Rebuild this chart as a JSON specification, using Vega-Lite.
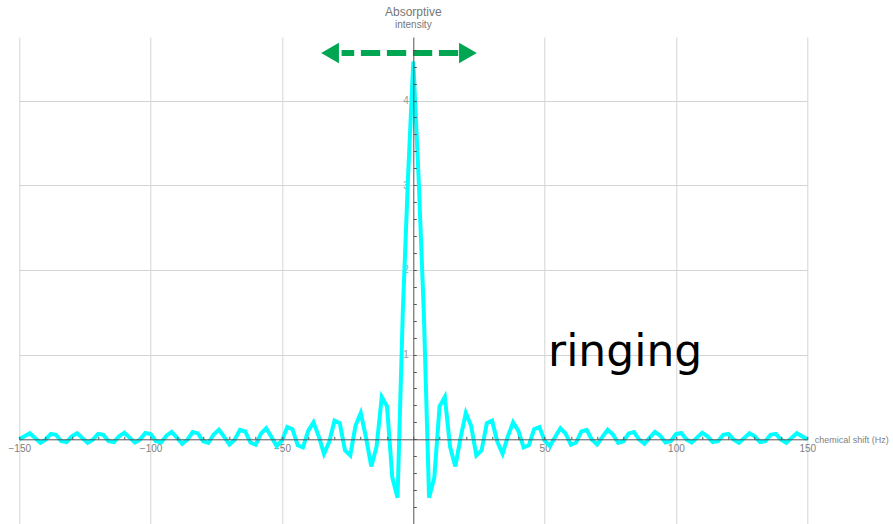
{
  "$schema": "https://vega.github.io/schema/vega-lite/v6.json",
  "width": 788,
  "height": 487,
  "autosize": {"type": "none"},
  "padding": {"left": 19.3, "top": 37, "right": 85.7, "bottom": 0},
  "background": "white",
  "config": {"view": {"stroke": null}, "font": "Liberation Sans"},
  "title": {
    "text": "Absorptive",
    "subtitle": "intensity",
    "anchor": "middle",
    "fontSize": 12,
    "fontWeight": "normal",
    "color": "#777777",
    "font": "Liberation Sans",
    "subtitleFont": "Liberation Sans",
    "subtitleFontSize": 10,
    "subtitleColor": "#777777",
    "subtitlePadding": 1,
    "offset": 6
  },
  "datasets": {
    "spec": [
      {"x": -150, "y": 0.0}, {"x": -148, "y": 0.035}, {"x": -146, "y": 0.071}, {"x": -144, "y": 0.015},
      {"x": -142, "y": -0.041}, {"x": -140, "y": -0.004}, {"x": -138, "y": 0.064}, {"x": -136, "y": 0.052},
      {"x": -134, "y": -0.022}, {"x": -132, "y": -0.034}, {"x": -130, "y": 0.035}, {"x": -128, "y": 0.071},
      {"x": -126, "y": 0.015}, {"x": -124, "y": -0.041}, {"x": -122, "y": -0.004}, {"x": -120, "y": 0.064},
      {"x": -118, "y": 0.052}, {"x": -116, "y": -0.022}, {"x": -114, "y": -0.034}, {"x": -112, "y": 0.035},
      {"x": -110, "y": 0.077}, {"x": -108, "y": 0.02}, {"x": -106, "y": -0.039}, {"x": -104, "y": -0.001},
      {"x": -102, "y": 0.074}, {"x": -100, "y": 0.061}, {"x": -98, "y": -0.022}, {"x": -96, "y": -0.038},
      {"x": -94, "y": 0.043}, {"x": -92, "y": 0.088}, {"x": -90, "y": 0.02}, {"x": -88, "y": -0.052},
      {"x": -86, "y": -0.005}, {"x": -84, "y": 0.086}, {"x": -82, "y": 0.07}, {"x": -80, "y": -0.023},
      {"x": -78, "y": -0.043}, {"x": -76, "y": 0.057}, {"x": -74, "y": 0.113}, {"x": -72, "y": 0.028},
      {"x": -70, "y": -0.062}, {"x": -68, "y": -0.004}, {"x": -66, "y": 0.112}, {"x": -64, "y": 0.092},
      {"x": -62, "y": -0.038}, {"x": -60, "y": -0.064}, {"x": -58, "y": 0.066}, {"x": -56, "y": 0.13},
      {"x": -54, "y": 0.028}, {"x": -52, "y": -0.08}, {"x": -50, "y": -0.016}, {"x": -48, "y": 0.145},
      {"x": -46, "y": 0.12}, {"x": -44, "y": -0.07}, {"x": -42, "y": -0.095}, {"x": -40, "y": 0.1},
      {"x": -38, "y": 0.2}, {"x": -36, "y": 0.035}, {"x": -34, "y": -0.17}, {"x": -32, "y": -0.03},
      {"x": -30, "y": 0.22}, {"x": -28, "y": 0.19}, {"x": -26, "y": -0.13}, {"x": -24, "y": -0.19},
      {"x": -22, "y": 0.16}, {"x": -20, "y": 0.31}, {"x": -18, "y": 0.02}, {"x": -16, "y": -0.32},
      {"x": -14, "y": -0.09}, {"x": -12, "y": 0.5}, {"x": -10, "y": 0.39}, {"x": -8, "y": -0.45},
      {"x": -6, "y": -0.69}, {"x": -4, "y": 1.5}, {"x": -2, "y": 3.1}, {"x": 0, "y": 4.46},
      {"x": 2, "y": 3.1}, {"x": 4, "y": 1.5}, {"x": 6, "y": -0.69}, {"x": 8, "y": -0.45},
      {"x": 10, "y": 0.39}, {"x": 12, "y": 0.5}, {"x": 14, "y": -0.09}, {"x": 16, "y": -0.32},
      {"x": 18, "y": 0.02}, {"x": 20, "y": 0.31}, {"x": 22, "y": 0.16}, {"x": 24, "y": -0.19},
      {"x": 26, "y": -0.13}, {"x": 28, "y": 0.19}, {"x": 30, "y": 0.22}, {"x": 32, "y": -0.03},
      {"x": 34, "y": -0.17}, {"x": 36, "y": 0.035}, {"x": 38, "y": 0.2}, {"x": 40, "y": 0.1},
      {"x": 42, "y": -0.095}, {"x": 44, "y": -0.07}, {"x": 46, "y": 0.12}, {"x": 48, "y": 0.145},
      {"x": 50, "y": -0.016}, {"x": 52, "y": -0.08}, {"x": 54, "y": 0.028}, {"x": 56, "y": 0.13},
      {"x": 58, "y": 0.066}, {"x": 60, "y": -0.064}, {"x": 62, "y": -0.038}, {"x": 64, "y": 0.092},
      {"x": 66, "y": 0.112}, {"x": 68, "y": -0.004}, {"x": 70, "y": -0.062}, {"x": 72, "y": 0.028},
      {"x": 74, "y": 0.113}, {"x": 76, "y": 0.057}, {"x": 78, "y": -0.043}, {"x": 80, "y": -0.023},
      {"x": 82, "y": 0.07}, {"x": 84, "y": 0.086}, {"x": 86, "y": -0.005}, {"x": 88, "y": -0.052},
      {"x": 90, "y": 0.02}, {"x": 92, "y": 0.088}, {"x": 94, "y": 0.043}, {"x": 96, "y": -0.038},
      {"x": 98, "y": -0.022}, {"x": 100, "y": 0.061}, {"x": 102, "y": 0.074}, {"x": 104, "y": -0.001},
      {"x": 106, "y": -0.039}, {"x": 108, "y": 0.02}, {"x": 110, "y": 0.077}, {"x": 112, "y": 0.035},
      {"x": 114, "y": -0.034}, {"x": 116, "y": -0.022}, {"x": 118, "y": 0.052}, {"x": 120, "y": 0.064},
      {"x": 122, "y": -0.004}, {"x": 124, "y": -0.041}, {"x": 126, "y": 0.015}, {"x": 128, "y": 0.071},
      {"x": 130, "y": 0.035}, {"x": 132, "y": -0.034}, {"x": 134, "y": -0.022}, {"x": 136, "y": 0.052},
      {"x": 138, "y": 0.064}, {"x": 140, "y": -0.004}, {"x": 142, "y": -0.041}, {"x": 144, "y": 0.015},
      {"x": 146, "y": 0.071}, {"x": 148, "y": 0.035}, {"x": 150, "y": 0.0}
    ],
    "arrow": [{"x": 17.1, "x2": -27.3, "y": 4.56}],
    "heads": [{"x": -31.7, "y": 4.56, "dir": "left"}, {"x": 20.8, "y": 4.56, "dir": "right"}],
    "label": [{"x": 51.3, "y": 0.865, "text": "ringing"}]
  },
  "resolve": {"axis": {"x": "independent", "y": "independent"}},
  "layer": [
    {
      "data": {"name": "spec"},
      "mark": {"type": "line", "color": "#00FFFF", "strokeWidth": 4},
      "encoding": {
        "x": {
          "field": "x", "type": "quantitative",
          "scale": {"domain": [-150, 150], "nice": false, "zero": false},
          "axis": {
            "orient": "bottom", "values": [-150, -100, -50, 50, 100, 150], "offset": -84.7,
            "grid": true, "gridColor": "#d4d4d4", "gridWidth": 1,
            "domain": false, "ticks": false,
            "labelColor": "#808080", "labelFontSize": 10, "labelPadding": 4, "labelFont": "Liberation Sans",
            "labelFlush": false, "labelOverlap": false,
            "title": "chemical shift (Hz)", "titleFontSize": 9, "titleFontWeight": "normal", "titleColor": "#808080",
            "titleFont": "Liberation Sans", "titleAlign": "left", "titleBaseline": "middle", "titleX": 795, "titleY": 0
          }
        },
        "y": {
          "field": "y", "type": "quantitative",
          "scale": {"domain": [-1, 4.75], "nice": false, "zero": false},
          "axis": {
            "orient": "left", "values": [1, 2, 3, 4], "offset": -394,
            "grid": true, "gridColor": "#d4d4d4", "gridWidth": 1,
            "domain": false, "ticks": false,
            "labelColor": "#999999", "labelFontSize": 10, "labelPadding": 5, "labelFont": "Liberation Sans",
            "title": null
          }
        }
      }
    },
    {
      "data": {"name": "spec"},
      "mark": {"type": "line", "strokeOpacity": 0},
      "encoding": {
        "x": {
          "field": "x", "type": "quantitative",
          "axis": {
            "orient": "bottom", "offset": -84.7, "zindex": 1,
            "values": [-150, -140, -130, -120, -110, -100, -90, -80, -70, -60, -50, -40, -30, -20, -10, 0, 10, 20, 30, 40, 50, 60, 70, 80, 90, 100, 110, 120, 130, 140, 150],
            "grid": false, "labels": false, "domain": true, "domainColor": "#555555", "domainWidth": 1,
            "ticks": true, "tickSize": -3, "tickColor": "#555555", "title": null
          }
        },
        "y": {
          "field": "y", "type": "quantitative",
          "axis": {
            "orient": "left", "offset": -394, "zindex": 1,
            "values": [-1, -0.8, -0.6, -0.4, -0.2, 0, 0.2, 0.4, 0.6, 0.8, 1, 1.2, 1.4, 1.6, 1.8, 2, 2.2, 2.4, 2.6, 2.8, 3, 3.2, 3.4, 3.6, 3.8, 4, 4.2, 4.4, 4.6],
            "grid": false, "labels": false, "domain": true, "domainColor": "#555555", "domainWidth": 1,
            "ticks": true, "tickSize": -3, "tickColor": "#555555", "title": null
          }
        }
      }
    },
    {
      "data": {"name": "arrow"},
      "mark": {"type": "rule", "color": "#00A651", "strokeWidth": 6, "strokeDash": [19.3, 6.7], "strokeCap": "butt"},
      "encoding": {
        "x": {"field": "x", "type": "quantitative", "axis": null},
        "x2": {"field": "x2"},
        "y": {"field": "y", "type": "quantitative", "axis": null}
      }
    },
    {
      "data": {"name": "heads"},
      "mark": {"type": "point", "filled": true, "size": 420, "color": "#00A651", "opacity": 1},
      "encoding": {
        "x": {"field": "x", "type": "quantitative", "axis": null},
        "y": {"field": "y", "type": "quantitative", "axis": null},
        "shape": {"field": "dir", "type": "nominal", "scale": {"domain": ["left", "right"], "range": ["triangle-left", "triangle-right"]}, "legend": null}
      }
    },
    {
      "data": {"name": "label"},
      "mark": {"type": "text", "align": "left", "baseline": "alphabetic", "fontSize": 44, "font": "DejaVu Sans", "color": "#000000"},
      "encoding": {
        "x": {"field": "x", "type": "quantitative", "axis": null},
        "y": {"field": "y", "type": "quantitative", "axis": null},
        "text": {"field": "text"}
      }
    }
  ]
}
